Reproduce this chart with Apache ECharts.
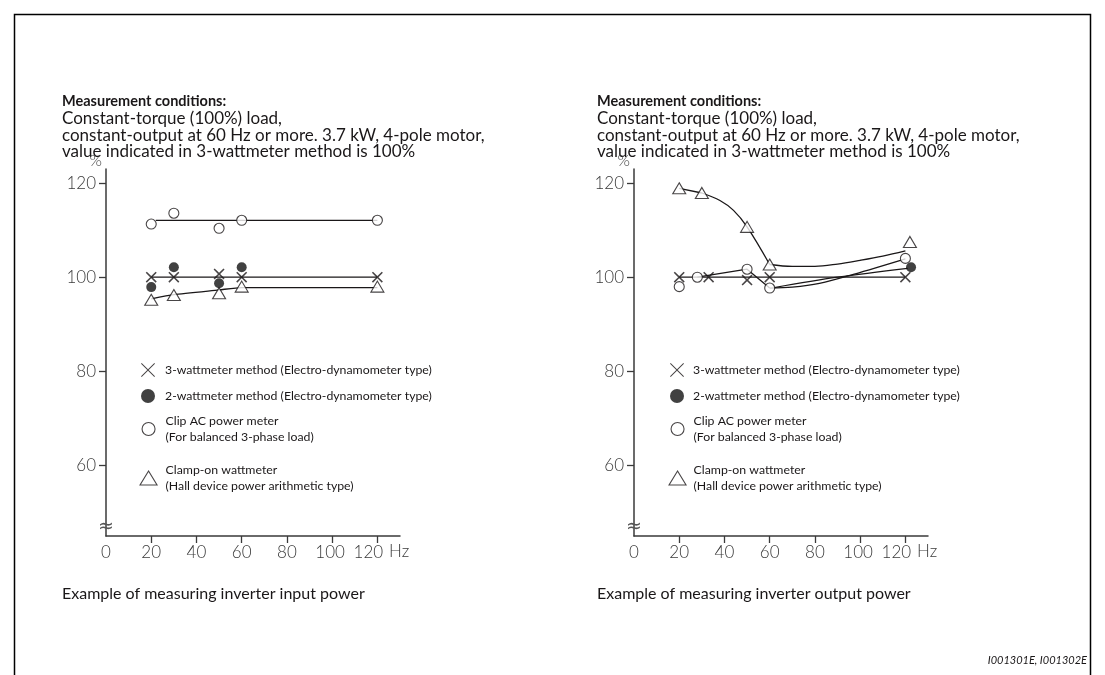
<!DOCTYPE html>
<html><head><meta charset="utf-8">
<script src="https://cdn.jsdelivr.net/npm/echarts@6/dist/echarts.min.js"></script>
<style>html,body{margin:0;padding:0;background:#fff}#c{width:1105px;height:675px}</style>
</head><body><div id="c"></div>
<script>
// ---------- DATA ----------
const xTickValues = [20, 40, 60, 80, 100, 120];
const xLabelValues = [0, 20, 40, 60, 80, 100, 120];
const yTickValues = [60, 80, 100, 120];
const seriesNames = ['3-wattmeter', '2-wattmeter', 'Clip AC', 'Clamp-on'];
const legendLabels = [
  '3-wattmeter method (Electro-dynamometer type)',
  '2-wattmeter method (Electro-dynamometer type)',
  'Clip AC power meter\n(For balanced 3-phase load)',
  'Clamp-on wattmeter\n(Hall device power arithmetic type)'
];
const conditionsTitle = 'Measurement conditions:';
const conditionsLines = [
  'Constant-torque (100%) load,',
  'constant-output at 60 Hz or more. 3.7 kW, 4-pole motor,',
  'value indicated in 3-wattmeter method is 100%'
];
const captions = ['Example of measuring inverter input power', 'Example of measuring inverter output power'];
const footerText = 'I001301E, I001302E';

// Left chart: inverter input power  [Hz, %]
const inThree = [[20, 100], [30, 100], [50, 100.7], [60, 100], [120, 100]];
const inTwo = [[20, 97.9], [30, 102.1], [50, 98.7], [60, 102.1]];
const inClip = [[20, 111.3], [30, 113.6], [50, 110.4], [60, 112.1], [120, 112.1]];
const inClamp = [[20, 95.2], [30, 96.2], [50, 96.6], [60, 98.0], [120, 98.0]];
const inThreeCurve = [[20, 100], [120, 100]];
const inClipCurve = [[22, 112.1], [120, 112.1]];
const inClampCurve = [[20, 95.4], [30, 96.3], [50, 97.3], [60, 97.8], [120, 97.8]];

// Right chart: inverter output power  [Hz, %]
const outThree = [[20, 100], [33, 100], [50, 99.4], [60, 100], [120, 100]];
const outTwo = [[122.5, 102.1]];
const outClip = [[20, 98.0], [28, 100], [50, 101.7], [60, 97.7], [120, 104.0]];
const outClamp = [[20, 118.9], [30, 117.9], [50, 110.7], [60, 102.7], [122, 107.5]];
const outThreeCurve = [[20, 100], [120, 100]];
const outClipCurveA = [[28, 100], [50, 101.7], [60, 97.7]];
const outClipCurveB = [[60, 97.7], [70, 97.9], [82, 98.7], [97, 100.6], [120, 103.9]];
const outTwoCurve = [[62, 97.8], [90, 100], [121, 101.9]];
const outClampCurveA = [[20, 118.9], [30, 117.9]];
const outClampCurveB = [[30, 117.9], [38, 116.3], [44, 114.2], [50, 110.7], [60, 102.7]];
const outClampCurveC = [[60, 102.7], [70, 102.3], [80, 102.3], [90, 102.8], [100, 103.6], [110, 104.5], [120, 105.6]];

// ---------- STYLE ----------
const INK = '#1a1718';
const AX = '#3a3a3a';
const FT = 'Lato, "Open Sans", sans-serif';
const FA = 'Lato, "Noto Sans", sans-serif';
const crossSmall = 'path://M1.4,0L7,5.6L12.6,0L14,1.4L8.4,7L14,12.6L12.6,14L7,8.4L1.4,14L0,12.6L5.6,7L0,1.4Z';
const crossThin = 'path://M1,0L10,9L19,0L20,1L11,10L20,19L19,20L10,11L1,20L0,19L9,10L0,1Z';

const symbols = [crossSmall, 'circle', 'circle', 'triangle'];
const symbolSizes = [11, 10, 10, [13, 11]];
const itemStyles = [
  { color: INK },
  { color: '#111' },
  { color: '#fff', borderColor: INK, borderWidth: 1.1 },
  { color: '#fff', borderColor: INK, borderWidth: 1.1 }
];

const dataSets = [
  {
    marks: [inThree, inTwo, inClip, inClamp],
    curves: [[inThreeCurve, 0], [inClipCurve, 0], [inClampCurve, 0.2]]
  },
  {
    marks: [outThree, outTwo, outClip, outClamp],
    curves: [[outThreeCurve, 0], [outClipCurveA, 0], [outClipCurveB, 0.35], [outTwoCurve, 0.35],
             [outClampCurveA, 0], [outClampCurveB, 0.35], [outClampCurveC, 0.35]]
  }
];

const gridLefts = [106, 634];
const grids = gridLefts.map(l => ({ left: l, width: 294, top: 169, height: 367 }));

function xAxisFor(i) {
  return {
    gridIndex: i, type: 'value', min: 0, max: 130,
    name: 'Hz', nameLocation: 'end', nameGap: -12,
    nameTextStyle: { fontFamily: FA, fontSize: 17, color: AX, verticalAlign: 'top', padding: [7, 0, 0, 0], fontWeight: 300 },
    axisLine: { show: true, onZero: false, lineStyle: { color: AX, width: 1.5 } },
    axisTick: { show: true, length: 7, customValues: xTickValues, lineStyle: { color: AX, width: 1.3 } },
    axisLabel: {
      show: true, margin: 8, customValues: xLabelValues, color: AX,
      fontFamily: FA, fontSize: 17, fontWeight: 300,
      formatter: v => v === 120 ? '{s|120}' : (v === 100 ? '{t|100}' : '' + v),
      rich: {
        s: { fontFamily: FA, fontSize: 17, fontWeight: 300, color: AX, padding: [0, 18, 0, 0] },
        t: { fontFamily: FA, fontSize: 17, fontWeight: 300, color: AX, padding: [0, 4, 0, 0] }
      }
    },
    splitLine: { show: false }
  };
}
function yAxisFor(i) {
  return {
    gridIndex: i, type: 'value', min: 45, max: 123,
    name: '%', nameLocation: 'end', nameGap: 0,
    nameTextStyle: { fontFamily: FA, fontSize: 16, color: AX, align: 'right', padding: [0, 4, 0, 0], fontWeight: 300 },
    axisLine: { show: true, onZero: false, lineStyle: { color: AX, width: 1.5 } },
    axisTick: { show: true, length: 7, customValues: yTickValues, lineStyle: { color: AX, width: 1.3 } },
    axisLabel: { show: true, margin: 10, customValues: yTickValues, color: AX, fontFamily: FA, fontSize: 17, fontWeight: 300 },
    splitLine: { show: false }
  };
}

const series = [];
dataSets.forEach((ds, g) => {
  ds.curves.forEach(([c, sm], k) => {
    series.push({
      type: 'line', name: 'curve' + g + '-' + k, xAxisIndex: g, yAxisIndex: g, data: c,
      smooth: sm, symbol: 'none', z: 1, silent: true,
      lineStyle: { color: INK, width: 1.3 }
    });
  });
  ds.marks.forEach((m, k) => {
    series.push({
      type: 'scatter', name: seriesNames[k], xAxisIndex: g, yAxisIndex: g, data: m,
      symbol: symbols[k], symbolSize: symbolSizes[k], itemStyle: itemStyles[k], z: 3, silent: true
    });
  });
});

// legends (one per item so each text block sits like the original)
const legendIconSizes = [[14, 14], [14, 14], [13, 13], [17, 14]];
const legendIcons = [crossThin, 'circle', 'circle', 'triangle'];
const legendIconStyles = [
  { color: INK, borderWidth: 0 },
  { color: '#111', borderWidth: 0 },
  { color: '#fff', borderColor: INK, borderWidth: 1.1 },
  { color: '#fff', borderColor: INK, borderWidth: 1.1 }
];
const legendCenters = [365, 391, 424, 473];
const legendTextH = [16, 16, 32, 32];
function legendsFor(iconCx, textX) {
  return seriesNames.map((n, i) => {
    const [w, h] = legendIconSizes[i];
    const left = iconCx - w / 2;
    return {
      left: left, top: legendCenters[i] - Math.max(h, legendTextH[i]) / 2,
      orient: 'vertical', itemWidth: w, itemHeight: h, selectedMode: false,
      data: [{ name: n, icon: legendIcons[i], itemStyle: legendIconStyles[i] }],
      formatter: () => legendLabels[i],
      textStyle: { fontFamily: FT, fontSize: 12.3, lineHeight: 16, color: INK, padding: [0, 0, 0, Math.max(0, textX - (left + w + 10))] }
    };
  });
}

const textLefts = [62, 597];
const graphic = [
  { type: 'polyline', shape: { points: [[14.5, 680], [14.5, 14.5], [1090.5, 14.5], [1090.5, 680]] }, style: { stroke: '#000', lineWidth: 1.5, fill: null }, silent: true }
];
textLefts.forEach((x, i) => {
  graphic.push({ type: 'text', left: x, top: 94, style: { text: conditionsTitle, font: 'bold 14.5px ' + FT, fill: INK } });
  graphic.push({ type: 'text', left: x, top: 110, style: { text: conditionsLines.join('\n'), font: '17px ' + FT, lineHeight: 16.7, fill: INK } });
  graphic.push({ type: 'text', left: x, top: 586, style: { text: captions[i], font: '16px ' + FT, fill: INK } });
});
graphic.push({ type: 'text', right: 18, top: 655, style: { text: footerText, font: 'italic 11px ' + FT, fill: INK, align: 'right' } });

const chart = echarts.init(document.getElementById('c'));
chart.setOption({
  animation: false,
  backgroundColor: '#fff',
  grid: grids,
  xAxis: [xAxisFor(0), xAxisFor(1)],
  yAxis: [yAxisFor(0), yAxisFor(1)],
  legend: [...legendsFor(143, 165), ...legendsFor(672, 693)],
  series: series,
  graphic: graphic
});

// axis break marks on the y axes
const breakValue = 47;
const extra = [0, 1].map(g => {
  const p = chart.convertToPixel({ gridIndex: g }, [0, breakValue]);
  return { type: 'text', x: p[0], y: p[1], z: 100, style: { text: '≈', font: '19px "DejaVu Sans", sans-serif', fill: '#555', align: 'center', verticalAlign: 'middle' } };
});
chart.setOption({ graphic: graphic.concat(extra) });
</script>
</body></html>
